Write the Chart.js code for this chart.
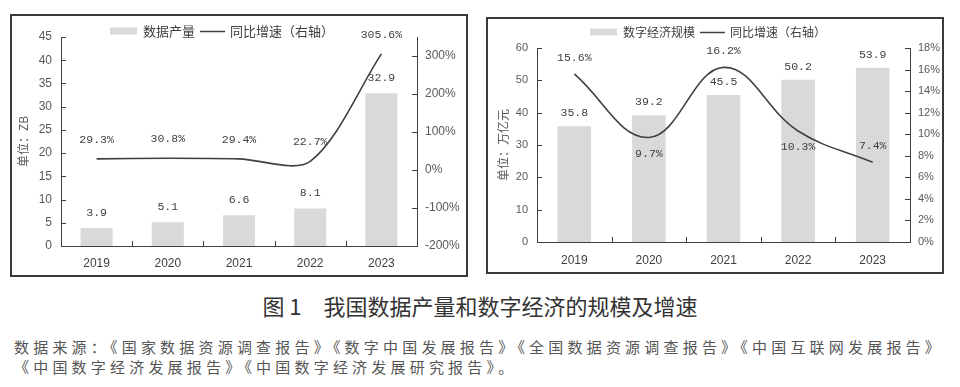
<!DOCTYPE html>
<html><head><meta charset="utf-8">
<script src="https://cdn.jsdelivr.net/npm/chart.js@4"></script>
<style>
body{margin:0;background:#fff;width:960px;height:387px;position:relative;overflow:hidden;font-family:"Noto Sans CJK SC",sans-serif}
.box{position:absolute;border:2px solid #3a3a3a;box-sizing:border-box;background:#fff}
#b1{left:10px;top:14px;width:458px;height:263px}
#b2{left:486px;top:17px;width:458px;height:257px}
.box canvas{display:block}
#cap{position:absolute;left:0;width:960px;top:292px;text-align:center;font-size:22px;line-height:26px;color:#333}
#src{position:absolute;left:14px;top:337px;font-size:15px;letter-spacing:4.2px;color:#555;line-height:20px;white-space:nowrap}
</style></head>
<body>
<div class="box" id="b1"><canvas id="c1" width="454" height="259"></canvas></div>
<div class="box" id="b2"><canvas id="c2" width="454" height="253"></canvas></div>
<div id="cap">图 1　我国数据产量和数字经济的规模及增速</div>
<div id="src">数据来源：《国家数据资源调查报告》《数字中国发展报告》《全国数据资源调查报告》《中国互联网发展报告》<br>《中国数字经济发展报告》《中国数字经济发展研究报告》。</div>
<script>
// ---- data ----
const years = ['2019', '2020', '2021', '2022', '2023'];
const dataOutput = [3.9, 5.1, 6.6, 8.1, 32.9];            // ZB
const dataOutputGrowth = [29.3, 30.8, 29.4, 22.7, 305.6]; // %
const digitalEconomy = [35.8, 39.2, 45.5, 50.2, 53.9];    // 万亿元
const digitalEconomyGrowth = [15.6, 9.7, 16.2, 10.3, 7.4]; // %
const growthLabelSide1 = ['above', 'above', 'above', 'above', 'above'];
const growthLabelSide2 = ['above', 'below', 'above', 'below', 'above'];

const BAR = '#d9d9d9', INK = '#404040';
const CJK = '"Noto Sans CJK SC", sans-serif';
const NUM = '"Liberation Sans", Arial, sans-serif';

const decor = {
  id: 'decor',
  afterDraw(chart, args, o) {
    const ctx = chart.ctx, ca = chart.chartArea;
    const x = chart.scales.x, y = chart.scales.y, y1 = chart.scales.y1;
    ctx.save();
    ctx.strokeStyle = INK; ctx.lineWidth = 1;
    y.ticks.forEach(t => {
      const p = Math.round(y.getPixelForValue(t.value)) + 0.5;
      ctx.beginPath(); ctx.moveTo(ca.left, p); ctx.lineTo(ca.left + 5, p); ctx.stroke();
    });
    y1.ticks.forEach(t => {
      const p = Math.round(y1.getPixelForValue(t.value)) + 0.5;
      ctx.beginPath(); ctx.moveTo(ca.right - 5, p); ctx.lineTo(ca.right, p); ctx.stroke();
    });
    for (let i = 0; i < years.length - 1; i++) {
      const px = Math.round((x.getPixelForTick(i) + x.getPixelForTick(i + 1)) / 2) + 0.5;
      ctx.beginPath(); ctx.moveTo(px, ca.bottom); ctx.lineTo(px, ca.bottom - 5); ctx.stroke();
    }
    ctx.font = o.labelFont; ctx.fillStyle = INK;
    ctx.textAlign = 'center'; ctx.textBaseline = 'middle';
    chart.data.datasets.forEach((ds, di) => {
      const meta = chart.getDatasetMeta(di);
      meta.data.forEach((el, i) => {
        const v = ds.data[i];
        if (ds.type === 'line') {
          const dy = o.sides[i] === 'below' ? o.lineOffset : -o.lineOffset;
          ctx.fillText(v.toFixed(1) + '%', el.x, el.y + dy);
        } else {
          ctx.fillText(v.toFixed(1), el.x, el.y - o.barOffset);
        }
      });
    });
    const L = o.legend;
    ctx.font = L.font; ctx.textAlign = 'left';
    const d0 = chart.data.datasets[0], d1 = chart.data.datasets[1];
    ctx.fillStyle = BAR; ctx.fillRect(L.x, L.y - 3.5, 27, 7);
    let cx = L.x + 33;
    ctx.fillStyle = INK; ctx.fillText(d0.label, cx, L.y);
    cx += ctx.measureText(d0.label).width + 5;
    ctx.lineWidth = 1.5; ctx.beginPath(); ctx.moveTo(cx, L.y + 0.5); ctx.lineTo(cx + 25, L.y + 0.5); ctx.stroke();
    cx += 30;
    ctx.fillText(d1.label, cx, L.y);
    ctx.restore();
  }
};

function makeChart(id, cfg) {
  return new Chart(document.getElementById(id), {
    type: 'bar',
    data: {
      labels: years,
      datasets: [
        { type: 'bar', label: cfg.barLabel, data: cfg.bars, backgroundColor: BAR,
          barPercentage: 0.45, categoryPercentage: 1, yAxisID: 'y', order: 1 },
        { type: 'line', label: '同比增速（右轴）', data: cfg.line, borderColor: INK, borderWidth: 1.6,
          pointRadius: 0, tension: cfg.tension, fill: false, yAxisID: 'y1', order: 0 }
      ]
    },
    options: {
      responsive: false, animation: false, devicePixelRatio: 1,
      layout: { padding: { top: cfg.top, left: 0, right: 0, bottom: 0 } },
      plugins: {
        legend: { display: false }, tooltip: { enabled: false },
        decor: { labelFont: cfg.labelFont, barOffset: cfg.barOffset, lineOffset: cfg.lineOffset,
                 sides: cfg.sides, legend: cfg.legend }
      },
      scales: {
        x: {
          grid: { display: false, drawTicks: false },
          border: { display: true, color: INK, width: 1 },
          ticks: { padding: cfg.xPad, color: INK, font: { size: 12, family: NUM } },
          afterFit: s => { s.height = cfg.xH; }
        },
        y: {
          position: 'left', min: 0, max: cfg.yMax,
          grid: { display: false, drawTicks: false },
          border: { display: true, color: INK, width: 1 },
          ticks: { stepSize: cfg.yStep, padding: 9, color: '#595959', font: { size: cfg.tickSize, family: NUM } },
          title: { display: true, text: cfg.yTitle, color: '#595959', padding: { top: cfg.titlePad, bottom: 0 },
                   font: { size: 12, family: CJK } },
          afterFit: s => { s.width = 49; }
        },
        y1: {
          position: 'right', min: cfg.y1Min, max: cfg.y1Max,
          grid: { display: false, drawTicks: false },
          border: { display: true, color: INK, width: 1 },
          ticks: { stepSize: cfg.y1Step, includeBounds: false, padding: 8, color: '#595959',
                   font: { size: cfg.tickSize, family: NUM }, callback: v => v + '%' },
          afterFit: s => { s.width = cfg.y1W; }
        }
      }
    },
    plugins: [decor]
  });
}

makeChart('c1', {
  barLabel: '数据产量', bars: dataOutput, line: dataOutputGrowth, sides: growthLabelSide1, tension: 0.3,
  top: 21, xH: 29, xPad: 10, yMax: 45, yStep: 5, yTitle: '单位：ZB', titlePad: 4,
  y1Min: -200, y1Max: 350, y1Step: 100, y1W: 49, tickSize: 12,
  labelFont: '11.5px "Liberation Mono", monospace', barOffset: 15, lineOffset: 19,
  legend: { x: 98, y: 15, font: '13px ' + CJK }
});
makeChart('c2', {
  barLabel: '数字经济规模', bars: digitalEconomy, line: digitalEconomyGrowth, sides: growthLabelSide2, tension: 0.4,
  top: 29, xH: 30, xPad: 11, yMax: 60, yStep: 10, yTitle: '单位：万亿元', titlePad: 8,
  y1Min: 0, y1Max: 18, y1Step: 2, y1W: 32, tickSize: 11,
  labelFont: '11.5px "Liberation Mono", monospace', barOffset: 13, lineOffset: 16,
  legend: { x: 102, y: 13, font: '12px ' + CJK }
});
</script>
</body></html>
